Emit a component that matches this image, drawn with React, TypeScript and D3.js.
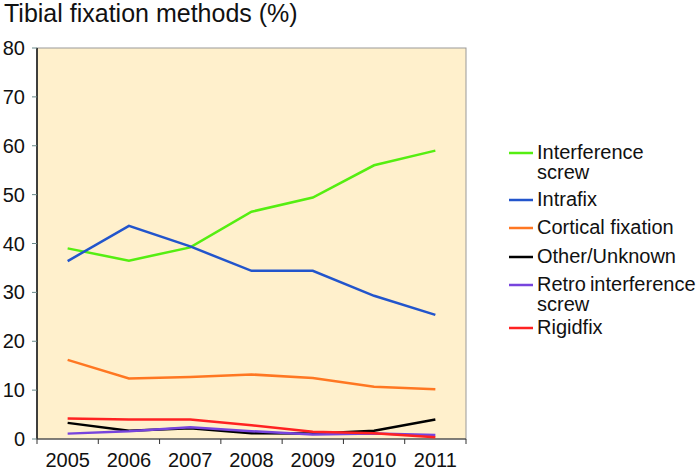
import React from "react";
import * as d3 from "d3";

const years = ["2005", "2006", "2007", "2008", "2009", "2010", "2011"];
const interference = [39.0, 36.5, 39.2, 46.5, 49.4, 56.0, 59.0];
const intrafix = [36.4, 43.6, 39.4, 34.4, 34.4, 29.3, 25.4];
const cortical = [16.2, 12.4, 12.7, 13.2, 12.5, 10.7, 10.2];
const other = [3.3, 1.7, 2.2, 1.2, 1.1, 1.7, 4.0];
const retro = [1.1, 1.6, 2.4, 1.6, 0.9, 1.1, 0.8];
const rigidfix = [4.2, 4.0, 4.0, 2.8, 1.5, 1.2, 0.35];
const yTicks = [0, 10, 20, 30, 40, 50, 60, 70, 80];

const series = [
  { name: ["Interference", "screw"], values: interference, color: "#55EE11" },
  { name: ["Intrafix"], values: intrafix, color: "#2255CC" },
  { name: ["Cortical fixation"], values: cortical, color: "#FF7722" },
  { name: ["Other/Unknown"], values: other, color: "#000000" },
  { name: ["Retro\u2009interference", "screw"], values: retro, color: "#7744DD" },
  { name: ["Rigidfix"], values: rigidfix, color: "#FF2222" },
];
const drawOrder = [2, 3, 4, 5, 0, 1];

export default function App() {
  const W = 698, H = 472;
  const left = 37, right = 466, top = 48, bottom = 439;
  const x = d3.scaleBand().domain(years).range([left, right]);
  const y = d3.scaleLinear().domain([0, 80]).range([bottom, top]);
  const line = d3
    .line<number>()
    .x((_, i) => (x(years[i]) as number) + x.bandwidth() / 2)
    .y((v) => y(v));
  const font = "Liberation Sans, Arial, sans-serif";
  const legendY = [153, 200, 228, 257, 285, 328];
  return (
    <svg
      width={W}
      height={H}
      style={{ position: "absolute", left: 0, top: 0, background: "#fff" }}
      fontFamily={font}
    >
      <text x={4} y={22} fontSize={25} fill="#111">
        Tibial fixation methods (%)
      </text>
      <rect x={left} y={top} width={right - left} height={bottom - top} fill="#FFF0CC" stroke="#999" strokeWidth={1} />
      <line x1={left} x2={left} y1={top} y2={bottom} stroke="#111" strokeWidth={1.5} />
      <line x1={left} x2={right} y1={bottom} y2={bottom} stroke="#333" strokeWidth={1.2} />
      {yTicks.map((t) => (
        <g key={t}>
          <line x1={left - 5} x2={left} y1={y(t)} y2={y(t)} stroke="#6a8a8a" />
          <text x={left - 12} y={y(t) + 7} textAnchor="end" fontSize={20} fill="#111">
            {t}
          </text>
        </g>
      ))}
      {years.map((yr, i) => (
        <g key={yr}>
          <line x1={x(yr) as number} x2={x(yr) as number} y1={bottom} y2={bottom + 5} stroke="#333" />
          <text x={(x(yr) as number) + x.bandwidth() / 2} y={467} textAnchor="middle" fontSize={20} fill="#111">
            {yr}
          </text>
        </g>
      ))}
      <line x1={right} x2={right} y1={bottom} y2={bottom + 5} stroke="#333" />
      {drawOrder.map((k) => (
        <path key={k} d={line(series[k].values) || ""} fill="none" stroke={series[k].color} strokeWidth={2.5} />
      ))}
      {series.map((s, i) => (
        <g key={i}>
          <line x1={509} x2={533} y1={legendY[i]} y2={legendY[i]} stroke={s.color} strokeWidth={2.5} />
          {s.name.map((n, j) => (
            <text key={j} x={537} y={legendY[i] + 6 + j * 20} fontSize={20} fill="#111">
              {n}
            </text>
          ))}
        </g>
      ))}
    </svg>
  );
}
